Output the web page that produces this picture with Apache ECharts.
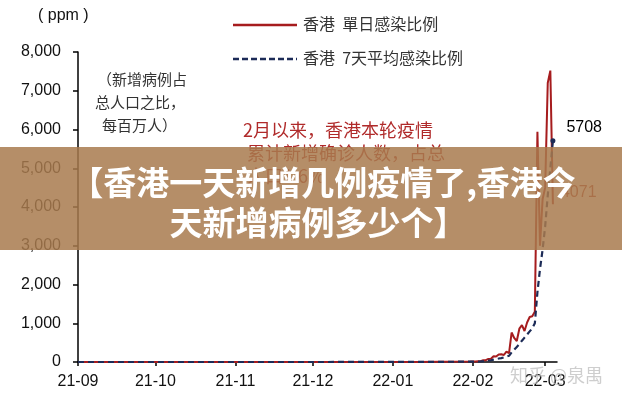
<!DOCTYPE html>
<html>
<head>
<meta charset="utf-8">
<script src="https://cdn.jsdelivr.net/npm/echarts@6/dist/echarts.min.js"></script>
<style>
html,body{margin:0;padding:0;background:#fff;}
#chart{width:622px;height:400px;}
</style>
</head>
<body>
<div id="chart"></div>
<script>
// ---- data ----
var dates = [
  '2021-09-01','2021-09-15','2021-10-01','2021-10-15','2021-11-01','2021-11-15',
  '2021-12-01','2021-12-15','2022-01-01','2022-01-10','2022-01-20','2022-01-31',
  '2022-02-01','2022-02-02','2022-02-03','2022-02-04','2022-02-05','2022-02-06',
  '2022-02-07','2022-02-08','2022-02-09','2022-02-10','2022-02-11','2022-02-12',
  '2022-02-13','2022-02-14','2022-02-15','2022-02-16','2022-02-17','2022-02-18',
  '2022-02-19','2022-02-20','2022-02-21','2022-02-22','2022-02-23','2022-02-24',
  '2022-02-25','2022-02-26','2022-02-27','2022-02-28','2022-03-01','2022-03-02',
  '2022-03-03','2022-03-04'
];
var dailyRatio = [
  0.5,0.3,0.4,0.3,0.5,0.4,
  0.5,1,1.5,3,6,10,
  12,15,18,20,45,48,
  80,85,150,140,195,200,
  180,270,230,760,620,540,
  860,950,800,1020,1160,1180,
  1300,5940,3000,4200,4500,7200,
  7520,4071
];
var avg7Ratio = [
  0.4,0.4,0.4,0.3,0.4,0.4,
  0.5,0.8,1.2,2.5,5,9,
  8,10,12,14,20,26,
  35,45,60,75,90,100,
  120,140,160,250,320,390,
  460,550,630,710,790,870,
  1000,1800,2400,2900,3500,4300,
  5000,5708
];
var yTicks = [0,1000,2000,3000,4000,5000,6000,7000,8000];
var seriesNames = ['香港  單日感染比例','香港  7天平均感染比例'];

var dailyData = dates.map(function(d,i){ return [d, dailyRatio[i]]; });
var avgData = dates.map(function(d,i){ return [d, avg7Ratio[i]]; });
var lastIdx = dates.length - 1;

var RED = '#a61c1e';
var NAVY = '#1c2b57';
var CJK = '"Noto Sans CJK SC","Noto Sans CJK TC",sans-serif';
var LAT = '"Liberation Sans",Arial,sans-serif';

var chart = echarts.init(document.getElementById('chart'), null, {renderer:'canvas'});
var option = {
  animation: false,
  backgroundColor: '#fff',
  grid: {left: 78, right: 65, top: 52, bottom: 38},
  xAxis: {
    type: 'time',
    min: '2021-09-01',
    max: '2022-03-05 14:00',
    splitNumber: 6,
    axisLine: {show: true, lineStyle: {color: '#000', width: 1.5}},
    axisTick: {show: true, length: 4, lineStyle: {color: '#000', width: 1.5}},
    splitLine: {show: false},
    axisLabel: {
      color: '#111', fontSize: 16, fontFamily: LAT, margin: 12,
      showMaxLabel: false,
      formatter: function(v){
        var d = new Date(v);
        var yy = String(d.getFullYear()).slice(2);
        var mm = String(d.getMonth()+1).padStart(2,'0');
        return yy + '-' + mm;
      }
    }
  },
  yAxis: {
    type: 'value',
    min: yTicks[0],
    max: yTicks[yTicks.length-1],
    interval: 1000,
    axisLine: {show: true, lineStyle: {color: '#000', width: 1.5}},
    axisTick: {show: true, length: 5, lineStyle: {color: '#000', width: 1.5}},
    splitLine: {show: false},
    axisLabel: {
      color: '#111', fontSize: 16, fontFamily: LAT, margin: 17,
      formatter: function(v){ return v.toLocaleString('en-US'); }
    }
  },
  series: [
    {
      name: seriesNames[0], type: 'line', data: dailyData, z: 2,
      showSymbol: true, symbol: 'circle', symbolSize: 0.1,
      itemStyle: {color: RED},
      lineStyle: {color: RED, width: 2},
      label: {
        show: true, position: 'right', offset: [3, -12],
        color: '#b03a2e', fontSize: 16, fontFamily: LAT,
        formatter: function(p){ return p.dataIndex === lastIdx ? String(p.value[1]) : ''; }
      }
    },
    {
      name: seriesNames[1], type: 'line', data: avgData, z: 3,
      showSymbol: true, symbol: 'circle',
      symbolSize: function(v, p){ return p.dataIndex === lastIdx ? 5 : 0.1; },
      itemStyle: {color: NAVY},
      lineStyle: {color: NAVY, width: 2.2, type: [6, 4]},
      label: {
        show: true, position: 'right', offset: [6, -13],
        color: '#000', fontSize: 16, fontFamily: LAT,
        formatter: function(p){ return p.dataIndex === lastIdx ? String(p.value[1]) : ''; }
      }
    }
  ],
  graphic: [
    {type:'text', z:50, left: 38, top: 8, style:{text:'( ppm )', fill:'#111', font:'16px ' + LAT}},
    // legend
    {type:'line', z:50, shape:{x1:233,y1:25,x2:297,y2:25}, style:{stroke:RED, lineWidth:2.5}},
    {type:'text', z:50, left: 303, top: 16, style:{text:seriesNames[0], fill:'#333', font:'16px ' + CJK}},
    {type:'line', z:50, shape:{x1:233,y1:59,x2:297,y2:59}, style:{stroke:NAVY, lineWidth:2.5, lineDash:[6,3]}},
    {type:'text', z:50, left: 303, top: 50, style:{text:seriesNames[1], fill:'#333', font:'16px ' + CJK}},
    // black note
    {type:'text', z:50, left: 97, top: 72, style:{text:'（新增病例占', fill:'#333', font:'15px ' + CJK}},
    {type:'text', z:50, left: 95, top: 95, style:{text:'总人口之比，', fill:'#333', font:'15px ' + CJK}},
    {type:'text', z:50, left: 102, top: 118, style:{text:'每百万人）', fill:'#333', font:'15px ' + CJK}},
    // red note
    {type:'text', z:50, left: 243, top: 121, style:{text:'2月以来，香港本轮疫情', fill:'#b02a2a', font:'18px ' + CJK}},
    {type:'text', z:50, left: 247, top: 144, style:{text:'累计新增确诊人数，占总', fill:'#b02a2a', font:'18px ' + CJK}},
    {type:'text', z:50, left: 247, top: 167, style:{text:'人口1.6%', fill:'#b02a2a', font:'18px ' + CJK}},
    // watermark
    {type:'text', z:60, left: 510, top: 366, style:{text:'知乎 @泉禺', fill:'rgba(190,190,190,0.75)', font:'18px ' + CJK}},
    // banner
    {type:'rect', z:100, shape:{x:0,y:147,width:622,height:103}, style:{fill:'rgba(168,122,78,0.85)'}},
    {type:'text', z:101, x: 323, y: 182, style:{text:'【香港一天新增几例疫情了,香港今', fill:'#fff', font:'bold 33px ' + CJK, align:'center', verticalAlign:'middle'}},
    {type:'text', z:101, x: 318, y: 222, style:{text:'天新增病例多少个】', fill:'#fff', font:'bold 33px ' + CJK, align:'center', verticalAlign:'middle'}}
  ]
};
chart.setOption(option);
</script>
</body>
</html>
